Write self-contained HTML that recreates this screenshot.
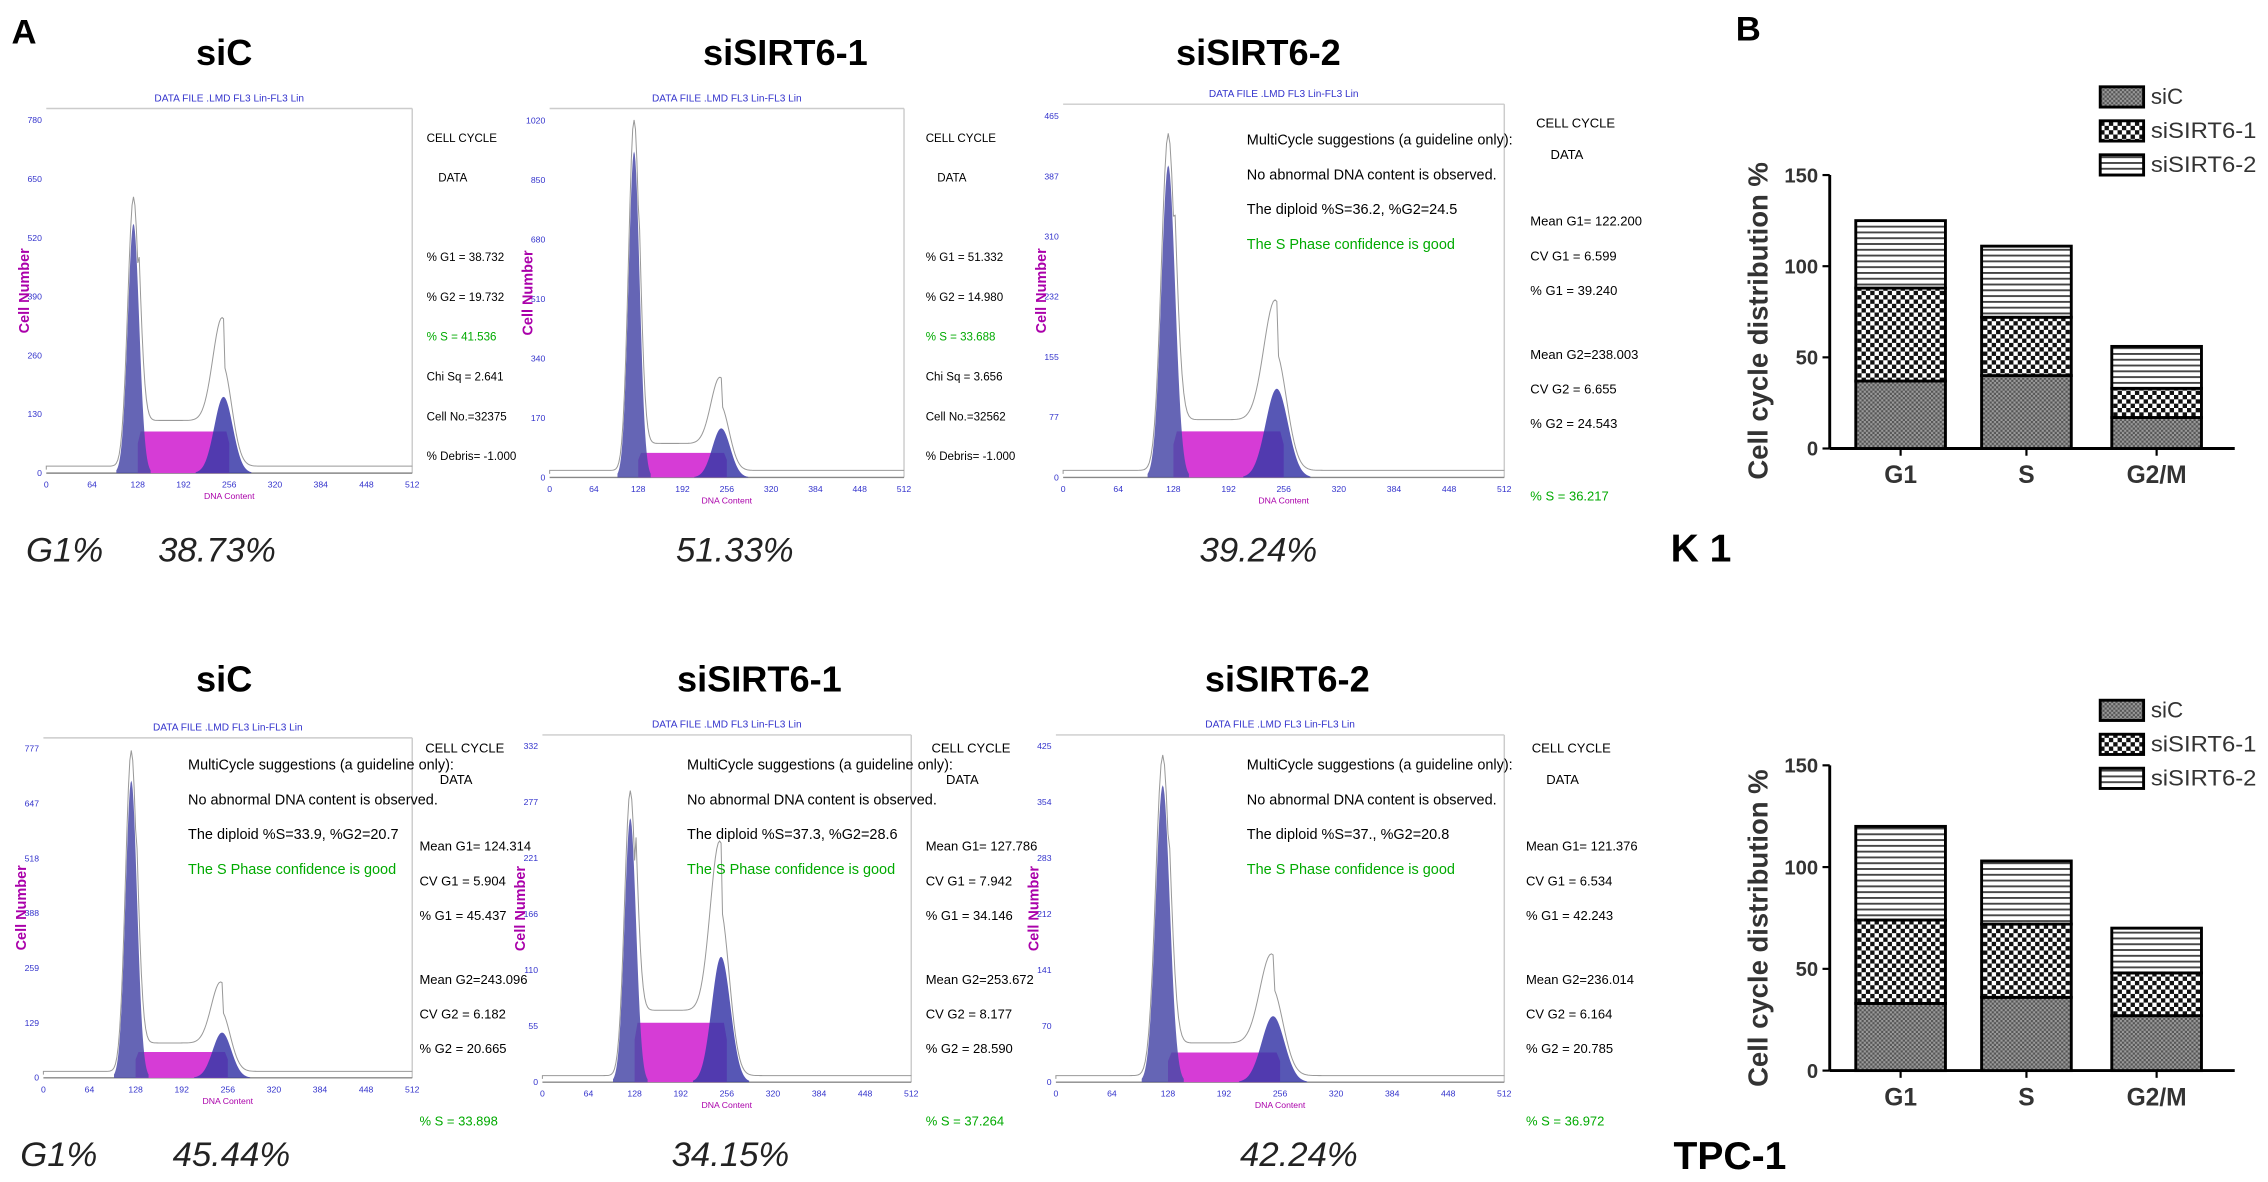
<!DOCTYPE html>
<html><head><meta charset="utf-8"><style>
html,body{margin:0;padding:0;background:#fff;}
svg{display:block;}
text{font-family:"Liberation Sans",sans-serif;}
</style></head><body>
<svg id="fig" width="2268" height="1182" viewBox="0 0 1568 817" preserveAspectRatio="none" xmlns="http://www.w3.org/2000/svg">
<defs>
<pattern id="pSiC" width="3" height="3" patternUnits="userSpaceOnUse"><rect width="3" height="3" fill="#9a9a9a"/><rect width="1.5" height="1.5" fill="#555"/><rect x="1.5" y="1.5" width="1.5" height="1.5" fill="#555"/></pattern>
<pattern id="pS1" width="6" height="6" patternUnits="userSpaceOnUse"><rect width="6" height="6" fill="#fff"/><rect width="3" height="3" fill="#111"/><rect x="3" y="3" width="3" height="3" fill="#111"/></pattern>
<pattern id="pS2" width="4" height="4" patternUnits="userSpaceOnUse"><rect width="4" height="4" fill="#fff"/><rect width="4" height="1.3" fill="#444"/></pattern>
</defs>
<g id="root"></g>
</svg>
<script>
const NS="http://www.w3.org/2000/svg";
const root=document.getElementById('root');
function el(tag,attrs,parent,txt){const e=document.createElementNS(NS,tag);for(const k in attrs)e.setAttribute(k,attrs[k]);if(txt!==undefined)e.textContent=txt;(parent||root).appendChild(e);return e;}

// ---- Bar chart data (panel B) ----
const categories=["G1","S","G2/M"];
const seriesNames=["siC","siSIRT6-1","siSIRT6-2"];
const k1SiC=[37,40,17];
const k1Si1=[51,32,16];
const k1Si2=[37,39,23];
const tpcSiC=[33,36,27];
const tpcSi1=[41,36,21];
const tpcSi2=[46,31,22];
const yTicks=[0,50,100,150];

// ---- Histogram data ----
const histTitles=["siC","siSIRT6-1","siSIRT6-2","siC","siSIRT6-1","siSIRT6-2"];
const g1Peak=[0.72,0.93,0.88,0.92,0.80,0.90];
const g2Peak=[0.22,0.14,0.25,0.14,0.38,0.20];
const sLevel=[0.12,0.07,0.13,0.08,0.18,0.09];
const yMaxLabels=[["0","130","260","390","520","650","780"],["0","170","340","510","680","850","1020"],["0","77","155","232","310","387","465"],["0","129","259","388","518","647","777"],["0","55","110","166","221","277","332"],["0","70","141","212","283","354","425"]];
const g1Pct=["38.73%","51.33%","39.24%","45.44%","34.15%","42.24%"];
const xTicks=[0,64,128,192,256,320,384,448,512];

const boxes=[[32,75,285,327],[380,75,625,330],[735,72,1040,330],[30,510,285,745],[375,508,630,748],[730,508,1040,748]];
const titleX=[155,543,870,155,525,890];
const titleY=[45,45,45,478,478,478];
const pctX=[150,508,870,160,505,898];
const pctY=[388,388,388,806,806,806];

const infoTexts=[
 [["CELL  CYCLE","#000"],["DATA","#000"],["",""],["% G1 = 38.732","#000"],["% G2 = 19.732","#000"],["% S  = 41.536","#0a0"],["Chi Sq =  2.641","#000"],["Cell No.=32375","#000"],["% Debris= -1.000","#000"]],
 [["CELL  CYCLE","#000"],["DATA","#000"],["",""],["% G1 = 51.332","#000"],["% G2 = 14.980","#000"],["% S  = 33.688","#0a0"],["Chi Sq =  3.656","#000"],["Cell No.=32562","#000"],["% Debris= -1.000","#000"]]
];
const longInfo=[
 ["Mean G1= 122.200","CV G1 =  6.599","% G1 = 39.240","Mean G2=238.003","CV G2 =  6.655","% G2 = 24.543","% S = 36.217"],
 ["Mean G1= 124.314","CV G1 =  5.904","% G1 = 45.437","Mean G2=243.096","CV G2 =  6.182","% G2 = 20.665","% S = 33.898"],
 ["Mean G1= 127.786","CV G1 =  7.942","% G1 = 34.146","Mean G2=253.672","CV G2 =  8.177","% G2 = 28.590","% S = 37.264"],
 ["Mean G1= 121.376","CV G1 =  6.534","% G1 = 42.243","Mean G2=236.014","CV G2 =  6.164","% G2 = 20.785","% S = 36.972"]
];
const diploid=["The diploid %S=36.2, %G2=24.5","The diploid %S=33.9, %G2=20.7","The diploid %S=37.3, %G2=28.6","The diploid %S=37., %G2=20.8"];

// static labels
el('text',{x:8,y:30,'font-size':24,'font-weight':'bold'},root,'A');
el('text',{x:1200,y:28,'font-size':24,'font-weight':'bold'},root,'B');
el('text',{x:1155,y:388,'font-size':27,'font-weight':'bold'},root,'K 1');
el('text',{x:1157,y:808,'font-size':27,'font-weight':'bold'},root,'TPC-1');
el('text',{x:18,y:388,'font-size':24,'font-style':'italic','fill':'#222'},root,'G1%');
el('text',{x:14,y:806,'font-size':24,'font-style':'italic','fill':'#222'},root,'G1%');

function gauss(x,m,s){return Math.exp(-0.5*((x-m)/s)*((x-m)/s));}

for(let i=0;i<6;i++){
  const [x0,y0,x1,y1]=boxes[i];
  const g=el('g',{});
  
  
  const t=el('text',{x:titleX[i],y:titleY[i],'font-size':25,'font-weight':'bold','text-anchor':'middle'},g,histTitles[i]);
  
  const p=el('text',{x:pctX[i],y:pctY[i],'font-size':24,'font-style':'italic','text-anchor':'middle','fill':'#222'},g,g1Pct[i]);
  
  el('line',{x1:x0,y1:y0,x2:x1,y2:y0,stroke:'#ccc','stroke-width':1},g);
  el('line',{x1:x1,y1:y0,x2:x1,y2:y1,stroke:'#ccc','stroke-width':1},g);
  el('line',{x1:x0,y1:y1,x2:x1,y2:y1,stroke:'#888','stroke-width':1},g);
  el('text',{x:(x0+x1)/2,y:y0-5,'font-size':7,'fill':'#33c','text-anchor':'middle'},g,'DATA FILE .LMD FL3 Lin-FL3 Lin');
  const xs=v=>x0+(x1-x0)*v/512;
  const H=(y1-y0)*0.95;
  const ys=f=>y1-H*f;
  xTicks.forEach(v=>{el('text',{x:xs(v),y:y1+10,'font-size':6,'fill':'#33c','text-anchor':'middle'},g,String(v));});
  el('text',{x:(x0+x1)/2,y:y1+18,'font-size':6,'fill':'#a0a','text-anchor':'middle'},g,'DNA Content');
  yMaxLabels[i].forEach((lab,j)=>{el('text',{x:x0-3,y:y1-(y1-y0)*j/6.2+2,'font-size':6,'fill':'#33c','text-anchor':'end'},g,lab);});
  const yl=el('text',{x:0,y:0,'font-size':10,'font-weight':'bold','fill':'#a0a','text-anchor':'middle',transform:`translate(${x0-12},${(y0+y1)/2}) rotate(-90)`},g,'Cell Number');
  
  let d=`M${xs(128)},${y1}`;
  for(let v=128;v<=256;v+=4){const e=Math.min(1,(v-118)/14,(266-v)/14);d+=` L${xs(v)},${ys(sLevel[i]*e)}`;}
  d+=` L${xs(256)},${y1}Z`;
  el('path',{d,fill:'#d63cd6'},g);
  const peak=(m,s,h,col,nm)=>{let dd=`M${xs(m-3*s)},${y1}`;for(let v=m-3*s;v<=m+3*s;v+=1)dd+=` L${xs(v)},${ys(h*gauss(v,m,s))}`;dd+=` L${xs(m+3*s)},${y1}Z`;el('path',{d:dd,fill:col,'fill-opacity':0.85},g);};
  peak(122,8,g1Peak[i],'#4a4aa8','g1-peak');
  peak(248,13,g2Peak[i],'#3a3aa8','g2-peak');
  let r=`M${xs(0)},${ys(0.01)}`;
  for(let v=0;v<=512;v+=2){const f=g1Peak[i]*1.08*gauss(v,122,8)+g2Peak[i]*1.35*gauss(v,246,13)+sLevel[i]*1.1*(v>128&&v<250?1:0)+0.02;r+=` L${xs(v)},${ys(Math.min(f,1.02))}`;}
  el('path',{d:r,fill:'none',stroke:'#999','stroke-width':0.7},g);
}
const infoX=[295,640];
infoTexts.forEach((arr,k)=>{arr.forEach((it,j)=>{if(!it[0])return;const tt=el('text',{x:infoX[k]+(j==1?8:0),y:98+j*27.5,'font-size':8,'fill':it[1]},root,it[0]);});});
const liX=[1058,290,640,1055];const liY=[84,516,516,516];
const miX=[862,130,475,862];const miY=[100,532,532,532];
longInfo.forEach((arr,k)=>{
  const bx=liX[k],by=liY[k];
  el('text',{x:bx+4,y:by+4,'font-size':9},root,'CELL  CYCLE');
  el('text',{x:bx+14,y:by+26,'font-size':9},root,'DATA');
  const yy=[72,96,120,164,188,212,262];
  arr.forEach((s,j)=>{const tt=el('text',{x:bx,y:by+yy[j],'font-size':9,'fill':j==6?'#0a0':'#000'},root,s);});
  const mx=miX[k],my=miY[k];
  ["MultiCycle suggestions (a guideline only):","No abnormal DNA content is observed.",diploid[k],"The S Phase confidence is good"].forEach((s,j)=>{el('text',{x:mx,y:my+j*24,'font-size':10,'fill':j==3?'#0a0':'#000'},root,s);});
});

function barChart(y0px,y150px,sic,s1,s2,legY,nm){
  const g=el('g',{});
  
  
  const ax=1265, axEnd=1545;
  const ys=v=>y0px-(y0px-y150px)*v/150;
  const bx=[1283,1370,1460], bw=62;
  el('line',{x1:ax,y1:ys(0),x2:ax,y2:ys(150),stroke:'#000','stroke-width':2},g);
  el('line',{x1:ax,y1:ys(0),x2:axEnd,y2:ys(0),stroke:'#000','stroke-width':2},g);
  yTicks.forEach(v=>{el('line',{x1:ax-5,y1:ys(v),x2:ax,y2:ys(v),stroke:'#000','stroke-width':1.5},g);const tl=el('text',{x:ax-8,y:ys(v)+5,'font-size':14,'font-weight':'bold','fill':'#333','text-anchor':'end'},g,String(v));});
  const series=[sic,s1,s2], fills=['url(#pSiC)','url(#pS1)','url(#pS2)'];
  categories.forEach((c,i)=>{
    let base=0;
    series.forEach((s,k)=>{const r=el('rect',{x:bx[i],y:ys(base+s[i]),width:bw,height:ys(base)-ys(base+s[i]),fill:fills[k],stroke:'#000','stroke-width':2},g);
      base+=s[i];});
    el('line',{x1:bx[i]+bw/2,y1:ys(0),x2:bx[i]+bw/2,y2:ys(0)+5,stroke:'#000','stroke-width':1.5},g);
    const xl=el('text',{x:bx[i]+bw/2,y:ys(0)+24,'font-size':17,'font-weight':'bold','fill':'#333','text-anchor':'middle'},g,c);
    
  });
  const yt=el('text',{x:0,y:0,'font-size':19,'font-weight':'bold','fill':'#333','text-anchor':'middle',transform:`translate(1222,${ys(70)}) rotate(-90)`},g,'Cell cycle distribution %');
  
  seriesNames.forEach((s,k)=>{const lg=el('g',{},g);
    el('rect',{x:1452,y:legY+k*23.5-7,width:30,height:14,fill:fills[k],stroke:'#000','stroke-width':2},lg);
    const lt=el('text',{x:1487,y:legY+k*23.5+5,'font-size':15.5,'fill':'#333'},lg,s);
    if(s.length>4){lt.setAttribute('textLength','73');lt.setAttribute('lengthAdjust','spacingAndGlyphs');}});
}
barChart(310,121,k1SiC,k1Si1,k1Si2,67,'k1-bar-chart');
barChart(740,529,tpcSiC,tpcSi1,tpcSi2,491,'tpc1-bar-chart');
</script>
</body></html>
